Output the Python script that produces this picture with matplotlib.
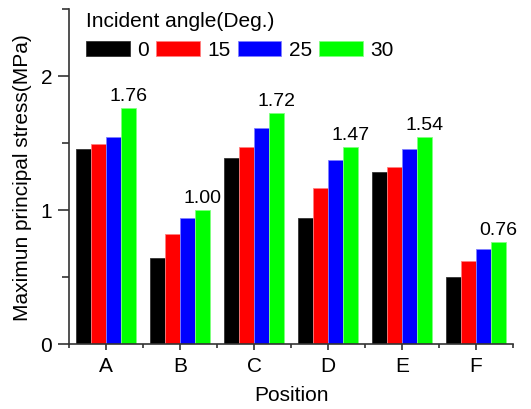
import numpy as np
import matplotlib
matplotlib.use('Agg')
from matplotlib import pyplot as plt
from matplotlib.ticker import MultipleLocator

plt.rcParams['font.family'] = ['Liberation Sans', 'DejaVu Sans']

# data
positions = ['A', 'B', 'C', 'D', 'E', 'F']
angles = ['0', '15', '25', '30']
s0 = [1.45, 0.64, 1.39, 0.94, 1.28, 0.50]
s15 = [1.49, 0.82, 1.47, 1.16, 1.32, 0.62]
s25 = [1.54, 0.94, 1.61, 1.37, 1.45, 0.71]
s30 = [1.76, 1.00, 1.72, 1.47, 1.54, 0.76]
labels30 = ['1.76', '1.00', '1.72', '1.47', '1.54', '0.76']

colors = ['#000000', '#ff0000', '#0000ff', '#00ff00']
edges = ['#333333', '#ff8080', '#8080ff', '#80ff80']

fig = plt.figure(figsize=(5.31, 4.10), dpi=100)
ax = fig.add_axes([69/531, 1-344.5/410, (513-69)/531, (344.5-10)/410])

x = np.arange(len(positions))
w = 0.2
series = [s0, s15, s25, s30]
for i, s in enumerate(series):
    ax.bar(x + (i-1.5)*w, s, w, color=colors[i], edgecolor=edges[i],
           linewidth=0.6, label=angles[i])

# value labels on the 30 deg bars
for xi, v, t in zip(x, s30, labels30):
    ax.annotate(t, (xi + 1.5*w, v), xytext=(0, 3), textcoords='offset points',
                ha='center', va='bottom', fontsize=14)

ax.set_xlim(-0.5, 5.5)
ax.set_ylim(0, 2.5)
ax.set_xticks(x)
ax.set_xticklabels(positions)
ax.xaxis.set_minor_locator(MultipleLocator(1, offset=0.5))
ax.yaxis.set_major_locator(MultipleLocator(1))
ax.yaxis.set_minor_locator(MultipleLocator(0.5))
ax.tick_params(axis='both', which='major', labelsize=15, direction='out', width=1.2, color='#333333')
ax.tick_params(axis='y', which='major', length=8, pad=4)
ax.tick_params(axis='y', which='minor', length=5, width=1.2, color='#333333')
ax.tick_params(axis='x', which='major', length=4, pad=5)
ax.tick_params(axis='x', which='minor', length=3, width=1.2, color='#333333')

for sp in ['top', 'right']:
    ax.spines[sp].set_visible(False)
for sp in ['left', 'bottom']:
    ax.spines[sp].set_linewidth(1.2)
    ax.spines[sp].set_color('#333333')

ax.set_xlabel('Position', fontsize=15, labelpad=7)
ax.set_ylabel('Maximun principal stress(MPa)', fontsize=15, labelpad=6)

leg = ax.legend(title='Incident angle(Deg.)', ncol=4, frameon=False, fontsize=15,
                title_fontsize=15, loc='upper left',
                bbox_to_anchor=(86/531, 1-12/410), bbox_transform=fig.transFigure,
                borderpad=0, borderaxespad=0, handlelength=2.1, handleheight=0.75,
                handletextpad=0.35, columnspacing=0.35, alignment='left')

fig.savefig('out.png', dpi=100)
